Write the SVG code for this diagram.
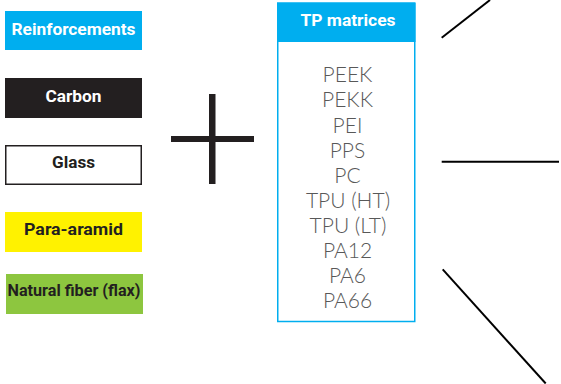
<svg xmlns="http://www.w3.org/2000/svg" width="561" height="384" viewBox="0 0 561 384">
  <style>
    .lbl { font-family: "Roboto", "Liberation Sans", sans-serif; font-weight: 700; font-size: 16px; text-anchor: middle; fill: #231f20; }
    .lbl.w { fill: #ffffff; }
    .mat { font-family: "Lato", "Open Sans", "Liberation Sans", sans-serif; font-weight: 300; font-size: 21px; text-anchor: middle; fill: #585858; }
    .link { stroke: #000000; stroke-width: 2; fill: none; }
  </style>

  <!-- reinforcement categories -->
  <g id="reinforcements">
    <rect x="5" y="11" width="137" height="39" fill="#00aeef"/>
    <text class="lbl w" x="73.5" y="34.5" textLength="124" lengthAdjust="spacingAndGlyphs">Reinforcements</text>
  </g>
  <g id="carbon">
    <rect x="5" y="78" width="137" height="40" fill="#231f20"/>
    <text class="lbl w" x="73.5" y="101.8" textLength="56" lengthAdjust="spacingAndGlyphs">Carbon</text>
  </g>
  <g id="glass">
    <rect x="5.75" y="145.75" width="135.5" height="38.5" fill="#ffffff" stroke="#231f20" stroke-width="1.5"/>
    <text class="lbl" x="73.5" y="167.8" textLength="43" lengthAdjust="spacingAndGlyphs">Glass</text>
  </g>
  <g id="para-aramid">
    <rect x="5" y="212" width="137" height="40" fill="#fff200"/>
    <text class="lbl" x="73.5" y="235" textLength="99" lengthAdjust="spacingAndGlyphs">Para-aramid</text>
  </g>
  <g id="natural-fiber">
    <rect x="6" y="274" width="137" height="40" fill="#8dc63f"/>
    <text class="lbl" x="74" y="296" textLength="133" lengthAdjust="spacingAndGlyphs">Natural fiber (flax)</text>
  </g>

  <!-- plus sign -->
  <g id="plus">
    <rect x="209" y="94" width="6.5" height="90" fill="#231f20"/>
    <rect x="171" y="136" width="83" height="6" fill="#231f20"/>
  </g>

  <!-- thermoplastic matrices -->
  <g id="tp-matrices">
    <rect x="277.75" y="3" width="137" height="318.5" fill="#ffffff" stroke="#00aeef" stroke-width="1.5"/>
    <rect x="277" y="3" width="138.5" height="39" fill="#00aeef"/>
    <text class="lbl w" x="348" y="26" font-size="17" textLength="95" lengthAdjust="spacingAndGlyphs">TP matrices</text>
    <text class="mat" x="347.5" y="82.3">PEEK</text>
    <text class="mat" x="347.5" y="107.4">PEKK</text>
    <text class="mat" x="347.5" y="132.5">PEI</text>
    <text class="mat" x="347.5" y="157.6">PPS</text>
    <text class="mat" x="347.5" y="182.7">PC</text>
    <text class="mat" x="348" y="207.8">TPU (HT)</text>
    <text class="mat" x="348" y="232.9">TPU (LT)</text>
    <text class="mat" x="347.5" y="258">PA12</text>
    <text class="mat" x="347.5" y="283.1">PA6</text>
    <text class="mat" x="347.5" y="308.2">PA66</text>
  </g>

  <!-- connectors -->
  <g id="connectors">
    <line class="link" x1="441.7" y1="37.7" x2="490" y2="0"/>
    <line class="link" x1="441.7" y1="161.7" x2="559" y2="161.7"/>
    <line class="link" x1="442.7" y1="269.3" x2="545.7" y2="383.5"/>
  </g>
</svg>
